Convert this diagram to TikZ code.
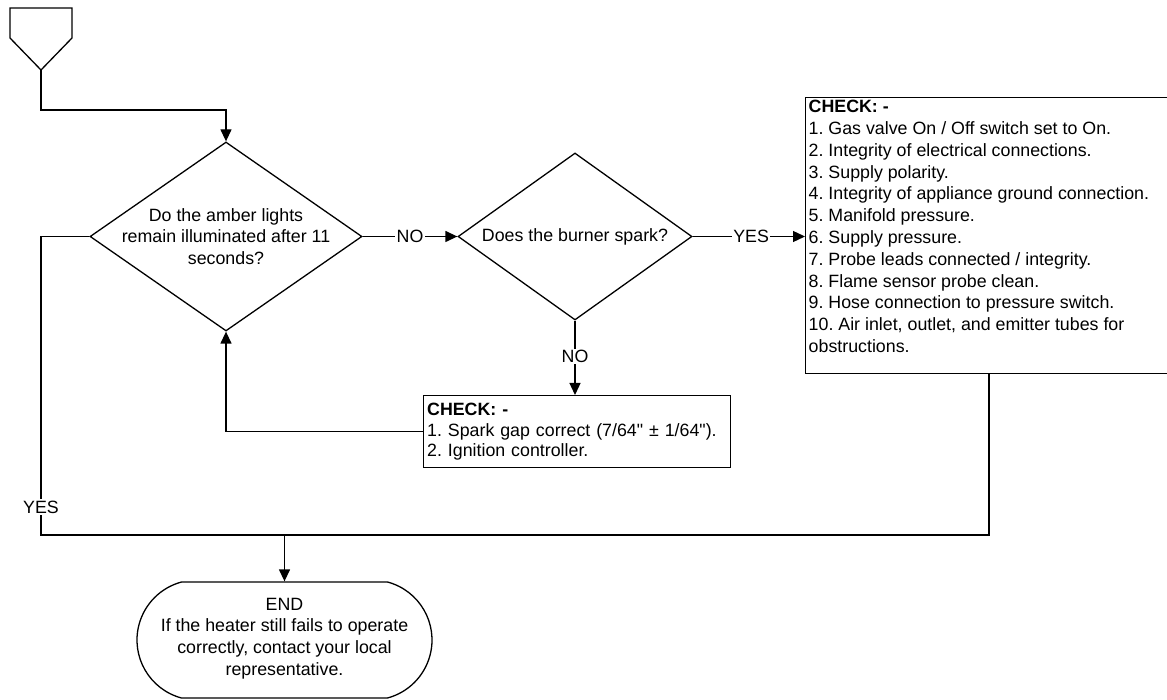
\documentclass[tikz,border=0pt]{standalone}
\usepackage{fontspec}
\setmainfont{Liberation Sans}
\newfontfamily\plainfont{Liberation Sans}
\usetikzlibrary{shapes.geometric,shapes.misc,arrows.meta,positioning,calc}
\frenchspacing

\begin{document}
\begin{tikzpicture}[x=1pt, y=-1pt,
  every node/.style={font=\fontsize{17.8}{21.8}\selectfont},
  ln/.style={line width=1.3pt},
  arr/.style={ln, -{Triangle[length=12pt,width=11pt]}},
  dec/.style={draw, ln, diamond, inner sep=0pt},
  qtxt/.style={align=center, inner sep=0pt},
  chkbox/.style={draw, ln, rectangle, inner sep=0pt},
  chktxt/.style={align=left, inner xsep=3.5pt, inner ysep=3pt},
  term/.style={draw, ln, rounded rectangle, rounded rectangle arc length=150,
               minimum width=295pt, minimum height=116pt, inner sep=0pt},
  lab/.style={fill=white, inner sep=1.5pt}
]
\useasboundingbox (0,0) rectangle (1167,700);

%% --- start connector ---------------------------------------------------
\draw[ln] (10,8) -- (72,8) -- (72,38) -- (41,70) -- (10,38) -- cycle;
\coordinate (st_tip) at (41,70);

%% --- decisions ---------------------------------------------------------
\node[dec, minimum width=272pt, minimum height=189pt] (q1) at (226,236.5) {};
\node[qtxt] (q1_t) at (q1.center) {Do the amber lights\\remain illuminated after 11\\seconds?};

\node[dec, minimum width=234pt, minimum height=167pt] (q2) at (575,236.5) {};
\node[qtxt] (q2_t) at (q2.center) {Does the burner spark?};

%% --- check boxes -------------------------------------------------------
\node[chkbox, minimum width=390pt, minimum height=276pt, anchor=north west]
      (chk1) at (805,97) {};
\node[chktxt, anchor=north west] (chk1_t) at (chk1.north west) {%
  \textbf{CHECK: -}\\
  1. Gas valve On / Off switch set to On.\\
  2. Integrity of electrical connections.\\
  3. Supply polarity.\\
  4. Integrity of appliance ground connection.\\
  5. Manifold pressure.\\
  6. Supply pressure.\\
  7. Probe leads connected / integrity.\\
  8. Flame sensor probe clean.\\
  9. Hose connection to pressure switch.\\
  10. Air inlet, outlet, and emitter tubes for\\
  obstructions.};

\node[chkbox, chktxt, font=\fontsize{17.8}{20.5}\selectfont, inner ysep=7.5pt,
      text width=300pt, anchor=north west] (chk2) at (423,395) {%
  \textbf{CHECK: -}\\
  1. Spark gap correct (7/64{\plainfont"} ± 1/64{\plainfont"}).\\
  2. Ignition controller.};

%% --- end terminal ------------------------------------------------------
\node[term] (end) at (284.5,640) {};
\node[qtxt] (end_t) at ([yshift=1.5pt]end.center) {END\\If the heater still fails to operate\\correctly, contact your local\\representative.};

%% --- connectors --------------------------------------------------------
\coordinate (bot_l) at (41,535);
\coordinate (bot_r) at (989,535);

\draw[arr] (st_tip) -- ++(0,40) -| (q1.north);
\draw[arr] (q1.east) -- node[lab] {NO} (q2.west);
\draw[arr] (q2.east) -- node[lab, pos=0.52] {YES} (q2.east -| chk1.west);
\draw[arr] (q2.south) -- node[lab, pos=0.48] {NO} (q2.south |- chk2.north);
\draw[arr] (chk2.west) -| (q1.south);
\draw[ln] (q1.west) -| node[lab, pos=0.953] {YES} (bot_l) -- (bot_r) -- (bot_r |- chk1.south);
\draw[arr] (bot_l -| end.north) -- (end.north);

\end{tikzpicture}
\end{document}
